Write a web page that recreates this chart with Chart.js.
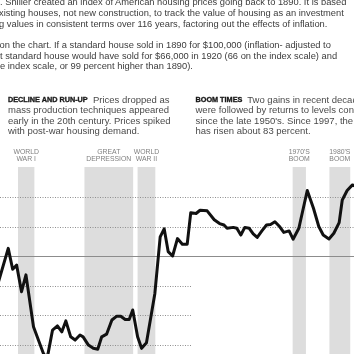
<!DOCTYPE html>
<html><head><meta charset="utf-8">
<script src="https://cdn.jsdelivr.net/npm/chart.js@4/dist/chart.umd.min.js"></script>
<style>
html,body{margin:0;padding:0;width:354px;height:354px;overflow:hidden;background:#fff;}
#wrap{position:relative;width:354px;height:354px;overflow:hidden;}
canvas{position:absolute;left:0;top:0;}
.t{position:absolute;white-space:nowrap;font-family:"Liberation Sans",Arial,sans-serif;}
.h{-webkit-text-stroke:0.35px #1a1a1a;}
</style></head><body><div id="wrap"><canvas id="c" width="354" height="354"></canvas></div>
<script>
// ---------- DATA ----------
const years = [1909.5, 1911.8, 1912.8, 1913.7, 1914.8, 1915.8, 1917.5, 1919.7, 1920.3, 1920.8,
  1921.8, 1922.9, 1923.9, 1924.8, 1925.9, 1926.9, 1928.0, 1928.7, 1929.9, 1931.0,
  1932.0, 1932.9, 1934.0, 1935.2, 1936.3, 1937.2, 1938.2, 1939.1, 1939.9, 1941.0,
  1941.9, 1943.0, 1944.9, 1946.1, 1947.0, 1947.9, 1948.9, 1950.0, 1951.1, 1952.2,
  1953.0, 1954.2, 1955.1, 1956.7, 1958.3, 1959.5, 1960.5, 1961.2, 1962.6, 1963.4,
  1964.3, 1965.2, 1966.2, 1967.1, 1968.0, 1969.1, 1970.1, 1971.0, 1972.0, 1973.1,
  1974.0, 1975.2, 1976.1, 1977.4, 1979.3, 1980.7, 1981.9, 1982.9, 1984.2, 1985.3,
  1986.5, 1987.2, 1988.3, 1989.5, 1990.3];
const indexValues = [90.7, 102.6, 95.5, 96.9, 87.9, 93.6, 76, 67.1, 65.6, 67,
  74.9, 76.3, 74.3, 78, 72.6, 71.5, 73.2, 72.6, 69.8, 68.7,
  68.4, 72.6, 73.5, 78.3, 79.6, 79.6, 78.5, 78.5, 81.7, 72.6,
  68.7, 70.6, 87.3, 106.5, 109.2, 101.5, 100, 105.9, 104, 104,
  114.7, 114.4, 115.5, 115.3, 112.3, 111, 110.5, 109.4, 109.7, 109.4,
  107.1, 109.7, 109.4, 107.5, 106.3, 108.6, 110.5, 110.7, 111.6, 109.9,
  108, 108.5, 105.7, 109.4, 122.2, 116.2, 110, 107.1, 105.8, 107.7,
  111.3, 119, 122.2, 124.1, 123.5];
const gridValues = [70, 80, 90, 100, 110, 120];
const baseValue = 100;
const shadeStarts = [1914, 1929, 1941, 1976, 1984.3];
const shadeEnds = [1917.7, 1940, 1945, 1979, 1989];
const shadeNames = [["WORLD", "WAR I"], ["GREAT", "DEPRESSION"], ["WORLD", "WAR II"], ["1970'S", "BOOM"], ["1980'S", "BOOM"]];
const lowerGridEndYear = 1953.3;
const xMin = 1909.94, xMax = 1989.85, yMin = 66.78, yMax = 130.17;

// ---------- CHART ----------
const bgPlugin = {
  id: 'bg',
  beforeDatasetsDraw(chart) {
    const {ctx, chartArea: a, scales: {x, y}} = chart;
    ctx.save();
    ctx.fillStyle = '#dddddd';
    shadeStarts.forEach((s, i) => {
      const x0 = x.getPixelForValue(s), x1 = x.getPixelForValue(shadeEnds[i]);
      ctx.fillRect(x0, a.top, x1 - x0, a.bottom - a.top);
    });
    gridValues.forEach(v => {
      const py = Math.round(y.getPixelForValue(v)) + 0.5;
      const xe = v < baseValue ? x.getPixelForValue(lowerGridEndYear) : a.right;
      ctx.beginPath();
      if (v === baseValue) { ctx.setLineDash([]); ctx.strokeStyle = '#8c8c8c'; }
      else { ctx.setLineDash([1, 1.5]); ctx.strokeStyle = '#8f8f8f'; }
      ctx.lineWidth = 1;
      ctx.moveTo(a.left, py); ctx.lineTo(xe, py); ctx.stroke();
    });
    ctx.restore();
  }
};

const chart = new Chart(document.getElementById('c'), {
  type: 'line',
  data: { datasets: [{
    data: years.map((yr, i) => ({x: yr, y: indexValues[i]})),
    borderColor: '#111', borderWidth: 3, pointRadius: 0, tension: 0, fill: false,
    borderJoinStyle: 'round', borderCapStyle: 'round'
  }]},
  options: {
    responsive: false, animation: false, devicePixelRatio: 1,
    layout: {padding: {top: 167, left: 0, right: 0, bottom: 0}},
    plugins: {legend: {display: false}, tooltip: {enabled: false}},
    scales: {
      x: {type: 'linear', min: xMin, max: xMax, display: false},
      y: {type: 'linear', min: yMin, max: yMax, display: false}
    }
  },
  plugins: [bgPlugin]
});

// ---------- TEXT ----------
const wrap = document.getElementById('wrap');
const SANS = '"Liberation Sans", Arial, sans-serif';
const mctx = document.createElement('canvas').getContext('2d');
function textW(t, size, weight) { mctx.font = `${weight} ${size}px ${SANS}`; return mctx.measureText(t).width; }
function fitSize(samples, weight) {
  let acc = 0;
  samples.forEach(([t, tw]) => { acc += tw / textW(t, 10, weight) * 10; });
  return acc / samples.length;
}
function addText(txt, left, cy, size, weight, color, lh, cls) {
  const d = document.createElement('div'); d.className = 't' + (cls ? ' ' + cls : ''); d.textContent = txt;
  Object.assign(d.style, {left: left + 'px', top: (cy - lh / 2) + 'px', fontSize: size + 'px',
    fontWeight: weight, color: color, lineHeight: lh + 'px'});
  wrap.appendChild(d); return d;
}

const introLines = [
  {pre: "Robert J", vis: ". Shiller created an index of American housing prices going back to 1890. It is based", cy: 2.7, x0: 0, x1: 350},
  {pre: "on e", vis: "xisting houses, not new construction, to track the value of housing as an investment", cy: 13.3, x0: -1, x1: 342},
  {pre: "showin", vis: "g values in consistent terms over 116 years, factoring out the effects of inflation.", cy: 24, x0: -1, x1: 328},
  {pre: "How to read the chart: Locati", vis: "on the chart. If a standard house sold in 1890 for $100,000 (inflation- adjusted to", cy: 45.3, x0: -0.5, x1: 335},
  {pre: "today's dollars), tha", vis: "t standard house would have sold for $66,000 in 1920 (66 on the index scale) and", cy: 56, x0: 0, x1: 333},
  {pre: "$199,000 in 2006 (199 on th", vis: "e index scale, or 99 percent higher than 1890).", cy: 66.7, x0: 0, x1: 193}
];
const introSize = fitSize(introLines.map(l => [l.vis, l.x1 - l.x0]), 400);
introLines.forEach(l => {
  const left = l.x0 - textW(l.pre, introSize, 400);
  addText(l.pre + l.vis, left, l.cy, introSize, 400, '#3c3c3c', 11);
});

const blockSize = fitSize([["mass production techniques appeared", 160], ["early in the 20th century. Prices spiked", 166], ["with post-war housing demand.", 130]], 400);
const headSize = fitSize([["DECLINE AND RUN-UP", 80]], 700);
const blocks = [
  {x: 8, head: "DECLINE AND RUN-UP", lines: ["Prices dropped as", "mass production techniques appeared", "early in the 20th century. Prices spiked", "with post-war housing demand."]},
  {x: 195.5, head: "BOOM TIMES", lines: ["Two gains in recent decades", "were followed by returns to levels consistent", "since the late 1950's. Since 1997, the index", "has risen about 83 percent."]}
];
const blockCy = [99, 109.5, 120, 130.5];
blocks.forEach(b => {
  addText(b.head, b.x, blockCy[0], headSize, 700, '#1a1a1a', 11, 'h');
  const hw = textW(b.head, headSize, 700);
  b.lines.forEach((t, i) => {
    addText(t, i === 0 ? b.x + hw + 5 : b.x, blockCy[i], blockSize, 400, '#4a4a4a', 11);
  });
});

const labelSize = fitSize([["DEPRESSION", 45]], 400);
const xs = chart.scales.x;
shadeNames.forEach((nm, i) => {
  const cx = (xs.getPixelForValue(shadeStarts[i]) + xs.getPixelForValue(shadeEnds[i])) / 2;
  nm.forEach((t, j) => {
    const w = textW(t, labelSize, 400);
    addText(t, cx - w / 2, 151.5 + j * 7, labelSize, 400, '#808080', 7);
  });
});
</script></body></html>
